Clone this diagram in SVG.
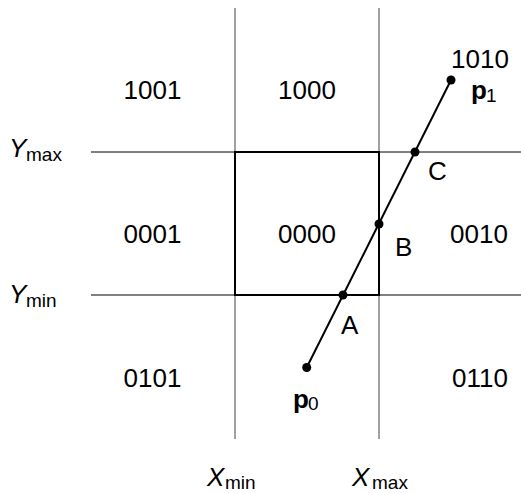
<svg xmlns="http://www.w3.org/2000/svg" width="521" height="493" viewBox="0 0 521 493">
<style>
text{font-family:"Liberation Sans","DejaVu Sans",sans-serif;font-size:26px;fill:#000}
.code{text-anchor:middle}
.sub{font-size:19px}
.it{font-style:italic}
.b{font-weight:bold}
.v{stroke:#808080;stroke-width:1.5;fill:none}
.h{stroke:#000;stroke-width:1;fill:none}
.box{stroke:#000;stroke-width:2;fill:none}
.seg{stroke:#000;stroke-width:2;fill:none}
.dot{fill:#000}
</style>
<rect width="521" height="493" fill="#fff"/>
<g id="grid">
<line class="v" x1="235" y1="8" x2="235" y2="439"/>
<line class="v" x1="379" y1="8" x2="379" y2="439"/>
<line class="h" x1="91" y1="152" x2="521" y2="152"/>
<line class="h" x1="91" y1="295" x2="521" y2="295"/>
<rect id="window" class="box" x="235" y="152" width="144" height="143"/>
</g>
<g id="regions">
<text class="code" x="152.5" y="99">1001</text>
<text class="code" x="307" y="99">1000</text>
<text class="code" x="480" y="68">1010</text>
<text class="code" x="152.5" y="243">0001</text>
<text class="code" x="307" y="243">0000</text>
<text class="code" x="479" y="243">0010</text>
<text class="code" x="152.5" y="387">0101</text>
<text class="code" x="480" y="387">0110</text>
</g>
<g id="axes-labels">
<text class="it" x="9" y="157">Y</text><text class="sub" x="26" y="161">max</text>
<text class="it" x="9" y="303">Y</text><text class="sub" x="26" y="307">min</text>
<text class="it" x="207" y="486">X</text><text class="sub" x="225" y="489">min</text>
<text class="it" x="352" y="486">X</text><text class="sub" x="372" y="489">max</text>
</g>
<g id="connectors">
<line class="seg" x1="306.7" y1="367.5" x2="451" y2="80"/>
</g>
<g id="p0">
<circle class="dot" cx="306.7" cy="367.5" r="4.5"/>
<text class="b" x="293" y="408">p</text><text class="sub" x="308" y="410">0</text>
</g>
<g id="p1">
<circle class="dot" cx="451" cy="80" r="4.5"/>
<text class="b" x="471" y="99">p</text><text class="sub" x="486" y="102">1</text>
</g>
<g id="A">
<circle class="dot" cx="343" cy="295" r="4.5"/>
<text x="341" y="334">A</text>
</g>
<g id="B">
<circle class="dot" cx="379" cy="224" r="4.5"/>
<text x="395" y="256">B</text>
</g>
<g id="C">
<circle class="dot" cx="415" cy="152" r="4.5"/>
<text x="428" y="180">C</text>
</g>
</svg>
